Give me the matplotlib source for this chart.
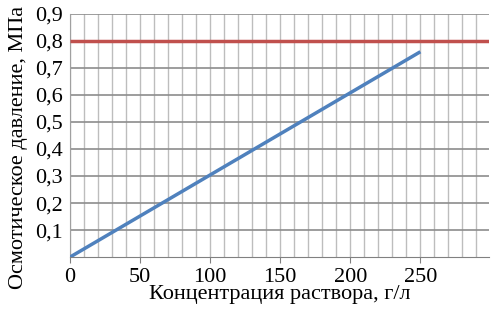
import matplotlib
matplotlib.use("Agg")
import matplotlib.pyplot as plt
import numpy as np

conc = [0, 250]
pressure = [0.0, 0.76]
limit_x = [0, 300]
limit_y = [0.8, 0.8]
xticks = [0, 50, 100, 150, 200, 250]
yticks = [0.1, 0.2, 0.3, 0.4, 0.5, 0.6, 0.7, 0.8, 0.9]

plt.rcParams['font.family'] = ['Liberation Serif', 'DejaVu Serif']
fig = plt.figure(figsize=(4.93, 3.09), dpi=100)
ax = fig.add_axes([0.142, 0.168, 0.85, 0.787])

ax.plot(limit_x, limit_y, color='#C0504D', lw=2.5, solid_capstyle='butt', zorder=3)
ax.plot(conc, pressure, color='#4F81BD', lw=2.5, solid_capstyle='butt', zorder=3)

ax.set_xlim(0, 299)
ax.set_ylim(0, 0.9)
ax.set_xticks(xticks)
ax.set_xticklabels([str(v) for v in xticks])
ax.set_yticks(yticks)
ax.set_yticklabels([f"{v:.1f}".replace('.', ',') for v in yticks])
ax.set_xticks(np.arange(10, 300, 10), minor=True)
ax.grid(True, which='major', axis='y', color='#8c8c8c', lw=1.2)
ax.grid(True, which='both', axis='x', color='#bdbdbd', lw=1.0)
ax.tick_params(axis='both', which='major', labelsize=16, length=4, color='#808080')
ax.tick_params(axis='y', length=0, pad=5)
ax.tick_params(axis='x', which='minor', length=0)
for s in ['top', 'right']:
    ax.spines[s].set_visible(False)
ax.spines['left'].set_color('#a0a0a0')
ax.spines['bottom'].set_color('#808080')
ax.set_axisbelow(True)

ax.set_xlabel('Концентрация раствора, г/л', fontsize=16, labelpad=-1)
ax.set_ylabel('Осмотическое давление, МПа', fontsize=16)
ax.yaxis.set_label_coords(-0.10, 0.45)

fig.savefig('out.png', dpi=100)
